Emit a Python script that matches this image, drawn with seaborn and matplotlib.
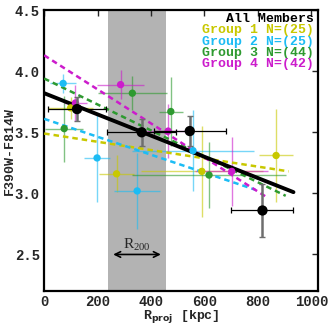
import numpy as np
import pandas as pd
import matplotlib
matplotlib.use("Agg")
import matplotlib.pyplot as plt
import seaborn as sns

# ---- data ----
groups = ["All", "G1", "G2", "G3", "G4"]
labels = ["All Members", "Group 1 N=(25)", "Group 2 N=(25)", "Group 3 N=(44)", "Group 4 N=(42)"]
colors = ["black", "#c8c800", "#1cbcf4", "#2e9a30", "#cc1ccc"]

r_all = [123, 365, 545, 817]
c_all = [3.69, 3.50, 3.51, 2.86]
rerr_all = [110, 130, 135, 116]
cerr_all = [0.10, 0.11, 0.12, 0.22]

r_g1 = [99, 271, 590, 868]
c_g1 = [3.70, 3.16, 3.18, 3.31]
rerr_g1 = [85, 67, 228, 63]
cerr_g1 = [0.09, 0.15, 0.37, 0.38]

r_g2 = [71, 198, 348, 557]
c_g2 = [3.90, 3.29, 3.02, 3.35]
rerr_g2 = [50, 50, 85, 227]
cerr_g2 = [0.08, 0.36, 0.31, 0.33]

r_g3 = [75, 330, 474, 617]
c_g3 = [3.53, 3.82, 3.67, 3.15]
rerr_g3 = [71, 128, 45, 287]
cerr_g3 = [0.27, 0.14, 0.28, 0.27]

r_g4 = [117, 286, 464, 702]
c_g4 = [3.74, 3.89, 3.51, 3.18]
rerr_g4 = [43, 87, 80, 137]
cerr_g4 = [0.15, 0.12, 0.22, 0.28]

# linear fits: start/end points
fit_x0 = [0, 0, 0, 0, 0]
fit_x1 = [933, 915, 790, 904, 832]
fit_y0 = [3.82, 3.49, 3.61, 3.94, 4.13]
fit_y1 = [3.01, 3.18, 3.03, 2.98, 2.97]

r200_lo, r200_hi = 238, 455

pts = pd.concat([
    pd.DataFrame({"r": r, "c": c, "re": re, "ce": ce, "g": g})
    for r, c, re, ce, g in [
        (r_all, c_all, rerr_all, cerr_all, "All"),
        (r_g1, c_g1, rerr_g1, cerr_g1, "G1"),
        (r_g2, c_g2, rerr_g2, cerr_g2, "G2"),
        (r_g3, c_g3, rerr_g3, cerr_g3, "G3"),
        (r_g4, c_g4, rerr_g4, cerr_g4, "G4"),
    ]
])
fits = pd.DataFrame({
    "r": fit_x0 + fit_x1,
    "c": fit_y0 + fit_y1,
    "g": groups + groups,
})

sns.set_style("white")
plt.rcParams["font.family"] = ["Liberation Mono", "DejaVu Sans Mono"]
plt.rcParams["font.weight"] = "bold"
plt.rcParams["mathtext.default"] = "regular"

fig = plt.figure(figsize=(3.32, 3.26), dpi=100)
ax = fig.add_axes([0.133, 0.107, 0.825, 0.862])

ax.axvspan(r200_lo, r200_hi, color="#b3b3b3", lw=0, zorder=0)

palette = dict(zip(groups, colors))

# error bars for the groups (light, no caps)
for g, col in zip(groups[1:], colors[1:]):
    d = pts[pts.g == g]
    ax.errorbar(d.r, d.c, xerr=d.re, yerr=d.ce, fmt="none", ecolor=col,
                alpha=0.6, elinewidth=1.0, capsize=0, zorder=2)

# fit lines
for g, col in zip(groups[1:], colors[1:]):
    sns.lineplot(data=fits[fits.g == g], x="r", y="c", color=col, lw=1.8,
                 ls=(0, (2.2, 1.6)), ax=ax, zorder=3)
sns.lineplot(data=fits[fits.g == "All"], x="r", y="c", color="black",
             lw=2.8, ax=ax, zorder=4)

# group points
sns.scatterplot(data=pts[pts.g != "All"], x="r", y="c", hue="g",
                palette=palette, s=28, edgecolor="none", legend=False,
                ax=ax, zorder=5)

# all members: black horizontal, gray vertical bars with caps
d = pts[pts.g == "All"]
ax.errorbar(d.r, d.c, xerr=d.re, fmt="none", ecolor="black", elinewidth=0.9,
            capsize=2.5, capthick=0.9, zorder=6)
ax.errorbar(d.r, d.c, yerr=d.ce, fmt="none", ecolor="#6e6e6e", elinewidth=1.8,
            capsize=2.5, capthick=1.0, zorder=6)
sns.scatterplot(data=d, x="r", y="c", color="black", s=55, edgecolor="none",
                ax=ax, zorder=7)

# R200 arrow
ax.annotate("", xy=(r200_lo + 10, 2.5), xytext=(r200_hi - 8, 2.5),
            arrowprops=dict(arrowstyle="<->", color="black", lw=1.2))
ax.text((r200_lo + r200_hi) / 2, 2.515, "R$_{200}$", ha="center", va="bottom",
        fontsize=11, family="Liberation Serif", weight="normal")

# text legend
for i, (lab, col) in enumerate(zip(labels, colors)):
    ax.text(0.985, 0.99 - i * 0.0405, lab, color=col, ha="right", va="top",
            transform=ax.transAxes, fontsize=9.5, weight="bold")

ax.set_xlim(0, 1025)
ax.set_ylim(2.2, 4.5)
ax.set_xticks([0, 200, 400, 600, 800, 1000])
ax.set_yticks([2.5, 3.0, 3.5, 4.0, 4.5])
ax.set_yticklabels(["2.5", "3.0", "3.5", "4.0", "4.5"])
ax.set_xlabel("R$_{\\rm proj}$ [kpc]", fontsize=9.5, weight="bold")
ax.set_ylabel("F390W-F814W", fontsize=9.5, weight="bold")
ax.yaxis.set_label_coords(-0.105, 0.5)
ax.xaxis.set_label_coords(0.5, -0.06)
ax.tick_params(axis="both", which="major", direction="in", length=4,
               width=1.0, labelsize=10, top=True, right=True, pad=3)
for s in ax.spines.values():
    s.set_linewidth(1.6)
    s.set_color("black")

fig.savefig("out.png", dpi=100)
